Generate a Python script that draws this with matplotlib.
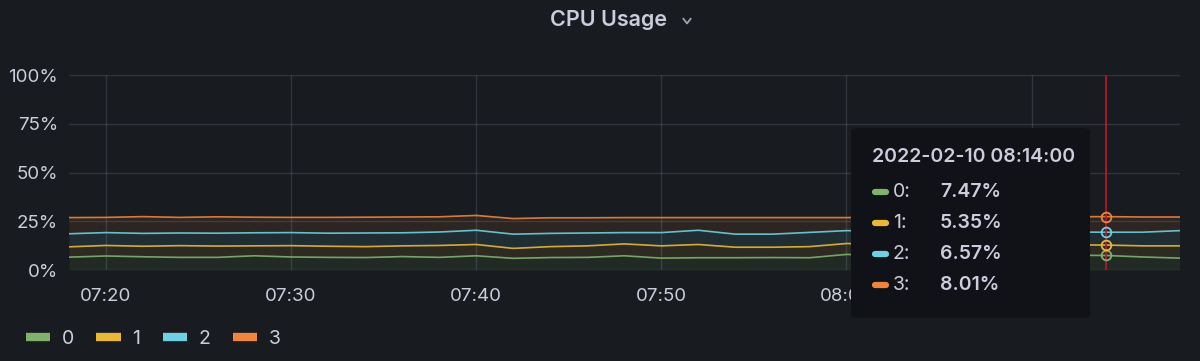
import numpy as np
import pandas as pd
import matplotlib
matplotlib.use("Agg")
import matplotlib.pyplot as plt
import matplotlib.dates as mdates
from matplotlib.patches import FancyBboxPatch
from matplotlib.lines import Line2D

plt.rcParams['font.family'] = ['Inter', 'DejaVu Sans']

# sample times, every 2 min
times = pd.date_range("2022-02-10 07:18", "2022-02-10 08:18", freq="2min")

# per-core cpu usage (%), stacked in the chart
cpu0 = [6.6, 7.2, 6.8, 6.5, 6.5, 7.3, 6.7, 6.5, 6.4, 6.9, 6.5, 7.3, 6.0, 6.4, 6.5, 7.3,
        6.1, 6.3, 6.3, 6.4, 6.3, 8.0, 7.6, 7.4, 7.6, 7.3, 7.5, 7.6, 7.47, 6.7, 6.1]
cpu1 = [5.3, 5.4, 5.4, 6.0, 5.8, 5.1, 5.8, 5.7, 5.6, 5.5, 6.1, 5.8, 5.1, 5.6, 5.9, 6.1,
        6.3, 6.8, 5.4, 5.3, 5.7, 5.6, 5.6, 5.5, 5.4, 5.5, 5.5, 5.3, 5.35, 5.7, 6.3]
cpu2 = [6.7, 6.6, 6.6, 6.5, 6.6, 6.7, 6.7, 6.7, 7.0, 6.7, 6.9, 7.3, 7.3, 6.8, 6.6, 5.8,
        6.8, 7.3, 6.7, 6.7, 7.3, 6.6, 6.8, 6.9, 6.6, 6.7, 6.6, 6.6, 6.57, 7.0, 7.8]
cpu3 = [8.3, 7.8, 8.6, 8.0, 8.4, 8.0, 7.8, 8.1, 8.1, 8.1, 7.8, 7.6, 8.0, 8.0, 7.8, 7.7,
        7.7, 6.5, 8.5, 8.5, 7.6, 6.7, 7.2, 7.5, 7.5, 7.7, 7.8, 7.8, 8.01, 7.8, 7.0]
names = ["0", "1", "2", "3"]
colors = ["#7eb26d", "#eab839", "#6ed0e0", "#ef843c"]

hover_time = pd.Timestamp("2022-02-10 08:14")
hover_vals = ["7.47%", "5.35%", "6.57%", "8.01%"]

bg = "#181b1f"
txt = "#ccccdc"

fig = plt.figure(figsize=(12, 3.61), dpi=100, facecolor=bg)
ax = fig.add_axes([0.0575, 0.252, 0.9255, 0.54])
ax.set_facecolor(bg)

series = [np.array(cpu0), np.array(cpu1), np.array(cpu2), np.array(cpu3)]
stacked = np.cumsum(series, axis=0)
lower = np.zeros(len(times))
for i in range(4):
    ax.fill_between(times, lower, stacked[i], color=colors[i], alpha=0.1, lw=0)
    ax.plot(times, stacked[i], color=colors[i], lw=1.2, alpha=0.9)
    lower = stacked[i]

# hover marker
hi = list(times).index(hover_time)
ax.axvline(hover_time, color="#c4162a", lw=1.2, zorder=4)
for i in range(4):
    ax.plot(hover_time, stacked[i][hi], 'o', ms=7, mfc="none", mec=colors[i], mew=1.3, zorder=5)

ax.set_xlim(times[0], times[-1])
ax.set_ylim(0, 100)
ax.set_yticks([0, 25, 50, 75, 100])
ax.set_yticklabels(["0%", "25%", "50%", "75%", "100%"])
ax.xaxis.set_major_locator(mdates.MinuteLocator(byminute=range(0, 60, 10)))
ax.xaxis.set_major_formatter(mdates.DateFormatter("%H:%M"))
ax.grid(True, color=txt, alpha=0.15, lw=1)
ax.tick_params(colors=txt, labelsize=13.5, length=0, pad=8)
ax.tick_params(axis='x', pad=13)
for s in ax.spines.values():
    s.set_visible(False)

# title
fig.text(0.507, 0.945, "CPU Usage", color=txt, fontsize=15.5, fontweight="semibold",
         ha="center", va="center")
fig.add_artist(Line2D([0.5695, 0.5725, 0.5755], [0.948, 0.935, 0.948], color="#9fa3ad", lw=1.3))

# legend
handles = [Line2D([0], [0], color=c, lw=6, solid_capstyle="butt") for c in colors]
fig.legend(handles, names, loc="lower left", bbox_to_anchor=(0.007, -0.012), ncol=4,
           frameon=False, fontsize=14, labelcolor=txt, handlelength=1.25,
           handletextpad=0.6, columnspacing=1.15)

# tooltip
box = FancyBboxPatch((851 / 1200, 1 - 318 / 361), 239 / 1200, 190 / 361,
                     boxstyle="round,pad=0,rounding_size=0.008", transform=fig.transFigure,
                     facecolor="#111217", edgecolor="none", zorder=10)
fig.add_artist(box)
fig.text(872 / 1200, 1 - 157 / 361, "2022-02-10 08:14:00", color=txt, fontsize=14,
         fontweight="semibold", va="center", zorder=11)
for i in range(4):
    y = 1 - (192 + 31 * i) / 361
    fig.add_artist(Line2D([875 / 1200, 886 / 1200], [y, y], color=colors[i], lw=4.5,
                          solid_capstyle="round", zorder=11))
    fig.text(893 / 1200, y, names[i] + ":", color=txt, fontsize=14, va="center", zorder=11)
    fig.text(940 / 1200, y, hover_vals[i], color=txt, fontsize=14, fontweight="semibold",
             va="center", zorder=11)

fig.savefig("out.png", facecolor=bg)
